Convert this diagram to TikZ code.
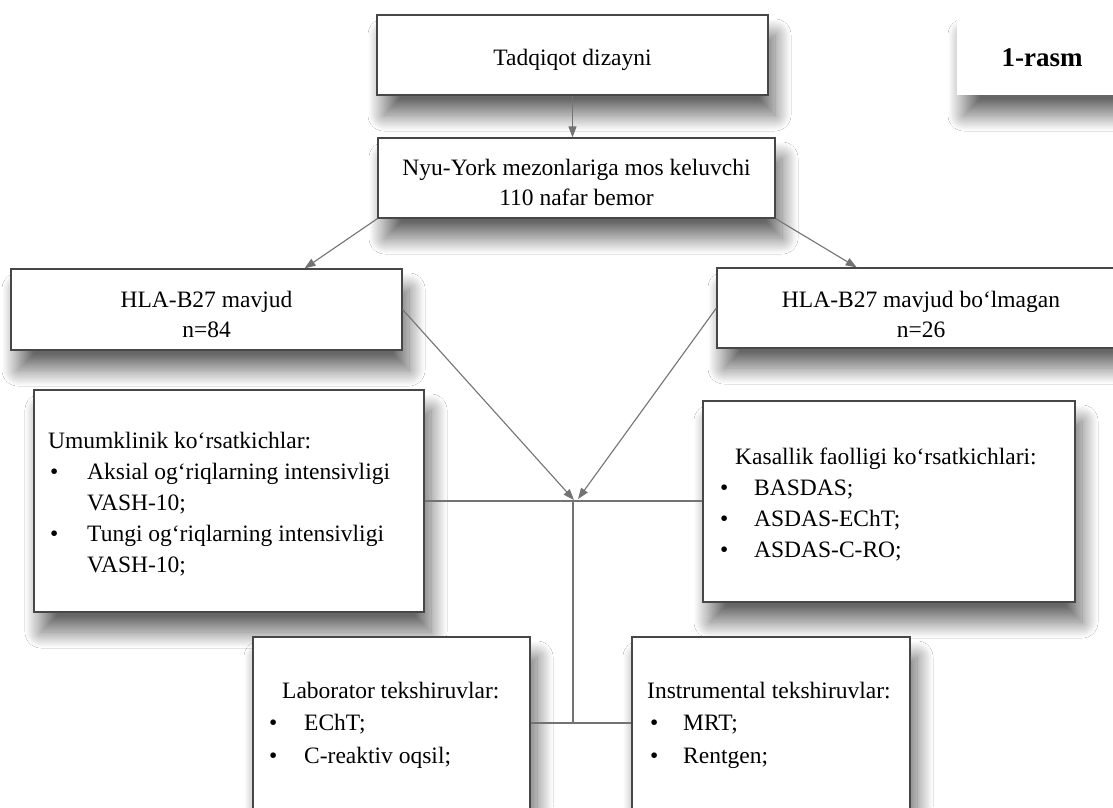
\documentclass[tikz,border=0pt]{standalone}
\usepackage{fontspec}
\setmainfont{Liberation Serif}
\usetikzlibrary{arrows.meta,shadows.blur,calc}
\begin{document}
\begin{tikzpicture}[x=1pt,y=-1pt,
  shad/.style={blur shadow={shadow xshift=7pt, shadow yshift=-20pt, shadow blur radius=16pt, shadow opacity=60, shadow blur steps=40}},
  box/.style={draw=black!72, line width=1.2pt, fill=white, inner sep=0pt, shad},
  plainbox/.style={fill=white, inner sep=0pt, shad},
  conn/.style={draw=black!55, line width=1.1pt},
  arr/.style={conn, -{Triangle[length=11pt,width=8pt]}},
  txt/.style={font=\fontsize{23.5}{31}\selectfont, align=left, inner sep=0pt},
  ltxt/.style={font=\fontsize{23.5}{32.5}\selectfont, align=left, inner sep=0pt},
  ctxt/.style={font=\fontsize{23.5}{30}\selectfont, align=center, inner sep=0pt}]
\useasboundingbox (0,0) rectangle (1113,807);
\clip (0,0) rectangle (1113,807);
\fill[white] (0,0) rectangle (1113,807);
% boxes
\node[box, minimum width=391pt, minimum height=80pt] (b1) at (572.5,55) {};
\node[plainbox, minimum width=173pt, minimum height=80pt] (b0) at (1043.5,55) {};
\node[box, minimum width=397pt, minimum height=80pt] (b2) at (576.5,178) {};
\node[box, minimum width=391pt, minimum height=81pt] (b3) at (206.5,309.5) {};
\node[box, minimum width=408pt, minimum height=80pt] (b4) at (921,308) {};
\node[box, minimum width=390pt, minimum height=222pt] (b5) at (229,501) {};
\node[box, minimum width=372pt, minimum height=201pt] (b6) at (889,501.5) {};
\node[box, minimum width=277pt, minimum height=174pt] (b7) at (391.5,724) {};
\node[box, minimum width=278pt, minimum height=174pt] (b8) at (771,724) {};
% texts
\node[ctxt] (t1) at ($(b1.center)+(0,5)$) {Tadqiqot dizayni};
\node[inner sep=0pt, font=\fontsize{27}{30}\selectfont\bfseries] (t0) at (1042,58) {1-rasm};
\node[ctxt] (t2) at ($(b2.center)+(0,4)$) {Nyu-York mezonlariga mos keluvchi\\110 nafar bemor};
\node[ctxt] (t3) at (206.5,314) {HLA-B27 mavjud\\n=84};
\node[ctxt] (t4) at (921,314) {HLA-B27 mavjud bo‘lmagan\\n=26};
\node[txt, anchor=west] (t5) at (48,504) {Umumklinik ko‘rsatkichlar:\\
  \hspace*{2pt}\makebox[37pt][l]{•}Aksial og‘riqlarning intensivligi\\
  \hspace*{39pt}VASH-10;\\
  \hspace*{2pt}\makebox[37pt][l]{•}Tungi og‘riqlarning intensivligi\\
  \hspace*{39pt}VASH-10;};
\node[txt, anchor=west] (t6) at (720,505) {\hspace*{15pt}Kasallik faolligi ko‘rsatkichlari:\\
  \makebox[34pt][l]{•}BASDAS;\\
  \makebox[34pt][l]{•}ASDAS-EChT;\\
  \makebox[34pt][l]{•}ASDAS-C-RO;};
\node[ltxt, anchor=west] (t7) at (269,725) {\hspace*{13pt}Laborator tekshiruvlar:\\
  \makebox[35pt][l]{•}EChT;\\
  \makebox[35pt][l]{•}C-reaktiv oqsil;};
\node[ltxt, anchor=west] (t8) at (647,725) {Instrumental tekshiruvlar:\\
  \hspace*{3pt}\makebox[33pt][l]{•}MRT;\\
  \hspace*{3pt}\makebox[33pt][l]{•}Rentgen;};
% junctions
\coordinate (j) at (573,501);
\coordinate (j2) at (573,723);
% connectors
\draw[arr] (b1.south) -- (b1.south |- b2.north);
\draw[arr] (b2.south west) -- ($(b3.north west)!0.75!(b3.north east)$);
\draw[arr] (b2.south east) -- ($(b4.north west)!0.343!(b4.north east)$);
\draw[arr] (b3.east) -- ($(j)+(1,-1)$);
\draw[arr] (b4.west) -- ($(j)+(5,-2)$);
\draw[conn] (b5.east |- j) -- (b6.west |- j);
\draw[conn] (j) -- (j2);
\draw[conn] (b7.east |- j2) -- (b8.west |- j2);
\end{tikzpicture}
\end{document}
